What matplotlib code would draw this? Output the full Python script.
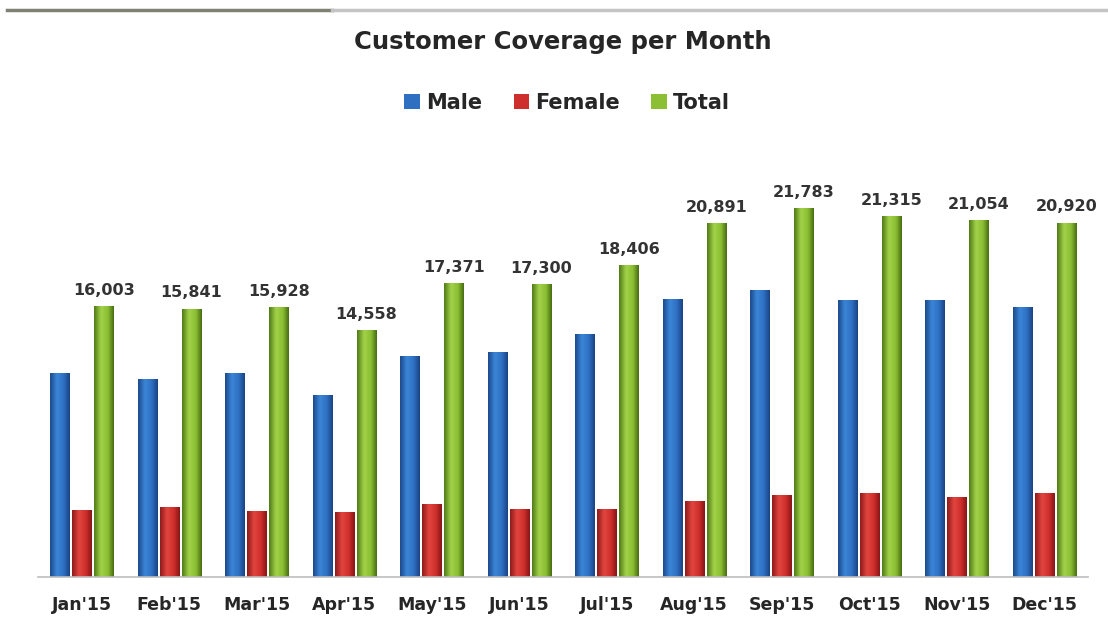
import numpy as np
import matplotlib.pyplot as plt
from matplotlib.colors import LinearSegmentedColormap
from matplotlib.lines import Line2D
from matplotlib.patches import Patch

months = ["Jan'15", "Feb'15", "Mar'15", "Apr'15", "May'15", "Jun'15",
          "Jul'15", "Aug'15", "Sep'15", "Oct'15", "Nov'15", "Dec'15"]
male = [12050, 11700, 12050, 10730, 13030, 13260,
        14380, 16400, 16960, 16380, 16350, 15930]
female = [3950, 4141, 3878, 3828, 4341, 4040,
          4026, 4491, 4823, 4935, 4704, 4990]
total = [16003, 15841, 15928, 14558, 17371, 17300,
         18406, 20891, 21783, 21315, 21054, 20920]

series = [
    ("Male", male, ["#1c4a8c", "#3b86d8", "#2f6fc2", "#1a4283"], "#2f6fc2"),
    ("Female", female, ["#8e1a1a", "#e2453f", "#cf2f2c", "#861616"], "#cf2f2c"),
    ("Total", total, ["#4f7a16", "#a2d24a", "#8cbf34", "#466d12"], "#8cbf34"),
]


def gradient_bars(ax, bars, colors):
    # paint a left-to-right cylinder-like gradient inside each bar
    cmap = LinearSegmentedColormap.from_list("g", list(zip([0, 0.35, 0.7, 1], colors)))
    grad = np.linspace(0, 1, 64).reshape(1, -1)
    for bar in bars:
        x, y = bar.get_x(), bar.get_y()
        w, h = bar.get_width(), bar.get_height()
        bar.set_facecolor("none")
        im = ax.imshow(grad, cmap=cmap, aspect="auto", extent=[x, x + w, y, y + h],
                       zorder=2, interpolation="bicubic")
        im.set_clip_path(bar)


fig = plt.figure(figsize=(11.08, 6.43), dpi=100)
ax = fig.add_axes([0.0343, 0.1026, 0.9477, 0.6321])

x = np.arange(len(months))
width = 0.22
offsets = [-0.25, 0.0, 0.25]

for (name, values, grad_colors, base), off in zip(series, offsets):
    bars = ax.bar(x + off, values, width=width, color=base, linewidth=0, zorder=2)
    gradient_bars(ax, bars, grad_colors)

for xi, v in zip(x, total):
    ax.annotate(f"{v:,}", (xi + 0.25, v), xytext=(0, 6), textcoords="offset points",
                ha="center", va="bottom", fontsize=11.5, fontweight="bold",
                color="#333333", family="DejaVu Sans")

ax.set_xlim(-0.5, len(months) - 0.5)
ax.set_ylim(0, 24000)
ax.set_xticks(x)
ax.set_xticklabels(months, fontsize=12.5, fontweight="bold", color="#262626")
ax.tick_params(axis="x", length=0, pad=14)
ax.set_yticks([])
for side in ["top", "left", "right"]:
    ax.spines[side].set_visible(False)
ax.spines["bottom"].set_color("#bdbdbd")
ax.spines["bottom"].set_linewidth(1.2)

fig.text(0.508, 0.935, "Customer Coverage per Month", ha="center", va="center",
         fontsize=17.5, fontweight="bold", color="#262626")

handles = [Patch(facecolor=s[3], edgecolor="none") for s in series]
fig.legend(handles, [s[0] for s in series], loc="center", bbox_to_anchor=(0.512, 0.84),
           ncol=3, frameon=False, handlelength=0.75, handleheight=0.75,
           handletextpad=0.3, columnspacing=1.5,
           prop={"weight": "bold", "size": 15}, labelcolor="#262626")

# screenshot border at the top
fig.add_artist(Line2D([0.006, 0.3], [0.985, 0.985], color="#7f8272", lw=2.5))
fig.add_artist(Line2D([0.3, 1.0], [0.985, 0.985], color="#c4c4c4", lw=2.5))

fig.savefig("out.png", dpi=100)
